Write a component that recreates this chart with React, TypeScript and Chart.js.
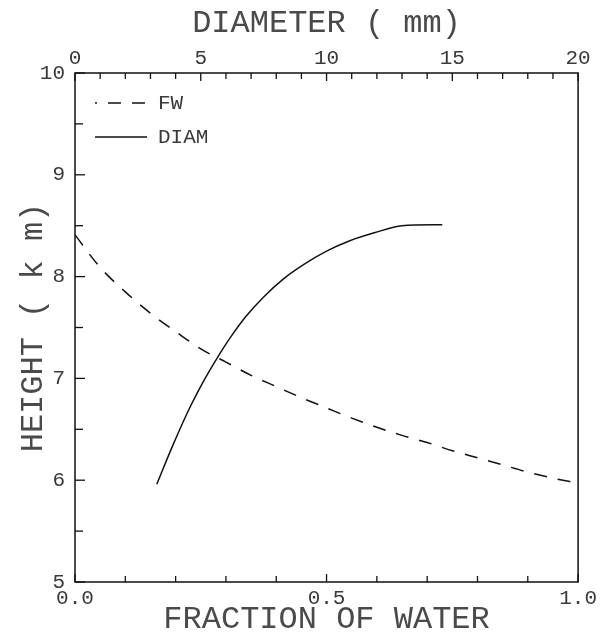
import React, { useEffect, useRef } from 'react';
import { Chart, registerables } from 'chart.js';

Chart.register(...registerables);

// Fraction of water (bottom axis) vs height
const fractionOfWater = [0, 0.05, 0.1, 0.15, 0.2, 0.25, 0.3, 0.35, 0.4, 0.45, 0.5, 0.55, 0.6, 0.65, 0.7, 0.75, 0.8, 0.85, 0.9, 0.95, 1.0];
const fwHeight = [8.41, 8.09, 7.85, 7.64, 7.46, 7.29, 7.16, 7.03, 6.92, 6.81, 6.71, 6.61, 6.52, 6.44, 6.37, 6.29, 6.22, 6.15, 6.08, 6.02, 5.97];

// Diameter (top axis, mm) vs height
const diameterMm = [3.25, 3.85, 4.5, 5.15, 5.65, 6.2, 6.8, 7.5, 8.3, 9.1, 10.0, 10.9, 11.9, 13.0, 14.6];
const diamHeight = [5.96, 6.32, 6.68, 6.99, 7.2, 7.41, 7.61, 7.8, 7.98, 8.12, 8.25, 8.35, 8.43, 8.5, 8.51];

const seriesLabels = ['FW', 'DIAM'];
const fractionLabels = [0, 0.5, 1.0];
const diameterLabels = [0, 5, 10, 15, 20];
const heightLabels = [5, 6, 7, 8, 9, 10];

const FONT = 'Liberation Mono';
const TEXT = '#3a3a3a';
const TITLE = '#4a4a4a';
const INK = '#111';

const near = (v: number, list: number[]) => list.some((l) => Math.abs(l - v) < 1e-6);

const frameTicksPlugin = {
  id: 'frameTicks',
  afterDraw(chart: any) {
    const { ctx, chartArea } = chart;
    const { left, right, top, bottom } = chartArea;
    ctx.save();
    ctx.strokeStyle = INK;
    ctx.lineWidth = 1.5;
    ctx.beginPath();
    ctx.rect(left, top, right - left, bottom - top);
    ctx.stroke();

    ctx.lineWidth = 1.3;
    const xs = chart.scales.x;
    xs.ticks.forEach((t: any) => {
      const p = xs.getPixelForValue(t.value);
      const len = near(t.value, fractionLabels) ? 8 : 6;
      ctx.beginPath();
      ctx.moveTo(p, bottom);
      ctx.lineTo(p, bottom - len);
      ctx.stroke();
    });
    const x2 = chart.scales.x2;
    x2.ticks.forEach((t: any) => {
      const p = x2.getPixelForValue(t.value);
      const len = near(t.value, diameterLabels) ? 8 : 6;
      ctx.beginPath();
      ctx.moveTo(p, top);
      ctx.lineTo(p, top + len);
      ctx.stroke();
    });
    const ys = chart.scales.y;
    ys.ticks.forEach((t: any) => {
      const p = ys.getPixelForValue(t.value);
      const len = near(t.value, heightLabels) ? 10 : 8;
      ctx.beginPath();
      ctx.moveTo(left, p);
      ctx.lineTo(left + len, p);
      ctx.stroke();
    });

    // legend
    const ds = chart.data.datasets;
    const lx0 = left + 20;
    const lx1 = left + 72;
    const tx = left + 83;
    const rows = [top + 30, top + 64];
    ds.forEach((d: any, i: number) => {
      const y = rows[i];
      ctx.save();
      ctx.strokeStyle = d.borderColor;
      ctx.lineWidth = d.borderWidth;
      if (d.borderDash && d.borderDash.length) {
        ctx.setLineDash(d.borderDash);
        ctx.lineDashOffset = 11;
      }
      ctx.beginPath();
      ctx.moveTo(lx0, y);
      ctx.lineTo(lx1, y);
      ctx.stroke();
      ctx.restore();
      ctx.fillStyle = TEXT;
      ctx.font = `21px "${FONT}"`;
      ctx.textBaseline = 'middle';
      ctx.textAlign = 'left';
      ctx.fillText(d.label, tx, y);
    });
    ctx.restore();
  },
};

export default function App() {
  const ref = useRef<HTMLCanvasElement | null>(null);

  useEffect(() => {
    if (!ref.current) return;
    const tickFont = { family: FONT, size: 21, lineHeight: 1 };
    const titleFont = { family: FONT, size: 32, lineHeight: 1 };
    const chart = new Chart(ref.current, {
      type: 'line',
      data: {
        datasets: [
          {
            label: seriesLabels[0],
            data: fractionOfWater.map((x, i) => ({ x, y: fwHeight[i] })),
            xAxisID: 'x',
            yAxisID: 'y',
            borderColor: INK,
            borderWidth: 1.5,
            borderDash: [13, 11],
            pointRadius: 0,
            cubicInterpolationMode: 'monotone',
            fill: false,
          },
          {
            label: seriesLabels[1],
            data: diameterMm.map((x, i) => ({ x, y: diamHeight[i] })),
            xAxisID: 'x2',
            yAxisID: 'y',
            borderColor: INK,
            borderWidth: 1.5,
            pointRadius: 0,
            cubicInterpolationMode: 'monotone',
            fill: false,
          },
        ],
      },
      options: {
        animation: false,
        responsive: false,
        devicePixelRatio: 1,
        layout: { padding: { left: 0, right: 19, top: 0, bottom: 0 } },
        plugins: { legend: { display: false }, tooltip: { enabled: false } },
        scales: {
          x: {
            type: 'linear',
            position: 'bottom',
            min: 0,
            max: 1,
            grid: { display: false, drawTicks: false },
            border: { display: false },
            ticks: {
              stepSize: 0.1,
              autoSkip: false,
              maxRotation: 0,
              padding: 6,
              font: tickFont,
              color: TEXT,
              callback: (v: any) => (near(Number(v), fractionLabels) ? Number(v).toFixed(1) : ''),
            },
            title: { display: true, text: 'FRACTION OF WATER', font: titleFont, color: TITLE, padding: { top: 0, bottom: 2 } },
            afterFit: (s: any) => { s.height = 56; },
          },
          x2: {
            type: 'linear',
            position: 'top',
            min: 0,
            max: 20,
            grid: { display: false, drawTicks: false },
            border: { display: false },
            ticks: {
              stepSize: 1,
              autoSkip: false,
              maxRotation: 0,
              padding: 4,
              font: tickFont,
              color: TEXT,
              callback: (v: any) => (near(Number(v), diameterLabels) ? String(v) : ''),
            },
            title: { display: true, text: 'DIAMETER ( mm)', font: titleFont, color: TITLE, padding: { top: 8, bottom: 0 } },
            afterFit: (s: any) => { s.height = 73; },
          },
          y: {
            type: 'linear',
            position: 'left',
            min: 5,
            max: 10,
            grid: { display: false, drawTicks: false },
            border: { display: false },
            ticks: {
              stepSize: 0.5,
              autoSkip: false,
              padding: 10,
              font: tickFont,
              color: TEXT,
              callback: (v: any) => (near(Number(v), heightLabels) ? String(v) : ''),
            },
            title: { display: true, text: 'HEIGHT ( k m)', font: titleFont, color: TITLE, padding: { top: 18, bottom: 0 } },
            afterFit: (s: any) => { s.width = 75; },
          },
        },
      },
      plugins: [frameTicksPlugin],
    });
    return () => chart.destroy();
  }, []);

  return (
    <div style={{ position: 'absolute', left: 0, top: 0, width: 603, height: 638, background: '#fff' }}>
      <canvas ref={ref} width={603} height={638} style={{ width: 603, height: 638, display: 'block' }} />
    </div>
  );
}
